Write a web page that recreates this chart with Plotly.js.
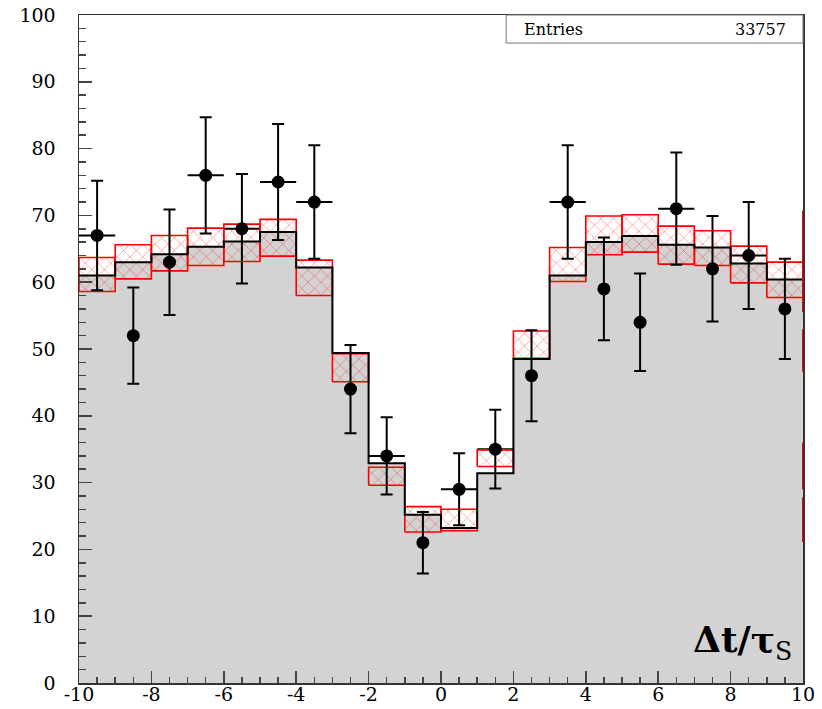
<!DOCTYPE html>
<html>
<head>
<meta charset="utf-8">
<script src="https://cdn.plot.ly/plotly-3.0.1.min.js"></script>
<style>html,body{margin:0;padding:0;background:#fff;}#chart{width:822px;height:709px;}</style>
</head>
<body>
<div id="chart"></div>
<script>
// ---- data ----
const binCenters = [-9.5,-8.5,-7.5,-6.5,-5.5,-4.5,-3.5,-2.5,-1.5,-0.5,0.5,1.5,2.5,3.5,4.5,5.5,6.5,7.5,8.5,9.5];
const binHalfWidth = 0.5;
const histVals = [61.0,63.0,64.2,65.3,66.1,67.5,62.2,49.4,32.9,25.2,23.2,31.4,48.5,61.0,66.0,66.9,65.6,65.2,62.8,60.4];
const bandHi   = [63.7,65.6,67.0,68.1,68.7,69.4,63.3,49.3,32.3,26.4,26.0,34.9,52.7,65.2,69.9,70.1,68.4,67.7,65.4,63.0];
const bandLo   = [58.6,60.5,61.7,62.5,63.1,63.9,58.0,45.1,29.6,22.6,22.8,32.4,48.6,60.1,64.1,64.5,62.7,62.5,59.9,57.7];
const dataVals = [67,52,63,76,68,75,72,44,34,21,29,35,46,72,59,54,71,62,64,56];
const dataErr  = [8.2,7.2,7.9,8.7,8.2,8.7,8.5,6.6,5.8,4.6,5.4,5.9,6.8,8.5,7.7,7.3,8.4,7.9,8.0,7.5];
const edgeX = 10;
const edgeRedY = [70.7,55.5,null,53.0,46.6,null,36.0,29.0,null,27.8,21.1];
const entriesLabel = "Entries";
const entriesValue = "33757";
const xTickVals = [-10,-8,-6,-4,-2,0,2,4,6,8,10];
const yTickVals = [0,10,20,30,40,50,60,70,80,90,100];

// ---- derived geometry ----
const stepX = [], stepY = [];
binCenters.forEach((c, i) => { stepX.push(c - binHalfWidth); stepY.push(histVals[i]); });
stepX.push(binCenters[binCenters.length-1] + binHalfWidth);
stepY.push(histVals[histVals.length-1]);

const boxX = [], boxY = [];
binCenters.forEach((c, i) => {
  const a = c - binHalfWidth, b = c + binHalfWidth;
  boxX.push(a, b, b, a, a, null);
  boxY.push(bandLo[i], bandLo[i], bandHi[i], bandHi[i], bandLo[i], null);
});

const serif = "DejaVu Serif";

const traces = [
  { // horizontal error bars (drawn first so the grey fill hides parts inside it)
    type: 'scatter', mode: 'markers', x: binCenters, y: dataVals,
    marker: {size: 1, color: 'rgba(0,0,0,0)'},
    error_x: {type: 'constant', value: binHalfWidth, width: 0, thickness: 2, color: '#000'},
    hoverinfo: 'skip', showlegend: false
  },
  { // grey filled histogram
    type: 'scatter', mode: 'lines', x: stepX, y: stepY,
    line: {shape: 'hv', width: 0, color: 'rgba(0,0,0,0)'},
    fill: 'tozeroy', fillcolor: '#d3d3d3', showlegend: false, hoverinfo: 'skip'
  },
  { // red hatched uncertainty boxes
    type: 'scatter', mode: 'lines', x: boxX, y: boxY,
    fill: 'toself', fillcolor: 'rgba(0,0,0,0)',
    fillpattern: {shape: 'x', fgcolor: 'rgba(255,0,0,0.7)', bgcolor: 'rgba(0,0,0,0)', size: 9, solidity: 0.1},
    line: {color: '#ff0000', width: 1.6}, connectgaps: false,
    showlegend: false, hoverinfo: 'skip'
  },
  { // black histogram outline
    type: 'scatter', mode: 'lines', x: stepX, y: stepY,
    line: {shape: 'hv', width: 2, color: '#000'}, showlegend: false, hoverinfo: 'skip'
  },
  { // red dashed edge
    type: 'scatter', mode: 'lines', x: edgeRedY.map(v => v === null ? null : edgeX), y: edgeRedY,
    line: {color: '#ff0000', width: 2}, connectgaps: false, cliponaxis: false,
    showlegend: false, hoverinfo: 'skip'
  },
  { // data points with vertical error bars
    type: 'scatter', mode: 'markers', x: binCenters, y: dataVals,
    marker: {size: 13, color: '#000', symbol: 'circle'},
    error_y: {type: 'data', array: dataErr, visible: true, width: 6, thickness: 2, color: '#000'},
    showlegend: false
  }
];

const layout = {
  width: 822, height: 709,
  margin: {l: 79, r: 19, t: 15, b: 26, pad: 0},
  paper_bgcolor: '#fff', plot_bgcolor: '#fff',
  showlegend: false,
  font: {family: serif, color: '#000', size: 19},
  xaxis: {
    range: [-10, 10], tickmode: 'array', tickvals: xTickVals, ticktext: xTickVals.map(String),
    ticks: 'inside', ticklen: 12, tickwidth: 1.5, tickcolor: '#444',
    minor: {dtick: 0.5, tick0: -10, ticks: 'inside', ticklen: 6, tickwidth: 1.5, tickcolor: '#444', showgrid: false},
    showline: true, linecolor: '#333', linewidth: 1.5, mirror: true,
    showgrid: false, zeroline: false, ticklabelstandoff: -6,
    tickfont: {family: serif, size: 19, color: '#000'}
  },
  yaxis: {
    range: [0, 100], tickmode: 'array', tickvals: yTickVals, ticktext: yTickVals.map(String),
    ticks: 'inside', ticklen: 13, tickwidth: 1.5, tickcolor: '#444',
    minor: {dtick: 2, tick0: 0, ticks: 'inside', ticklen: 7, tickwidth: 1.5, tickcolor: '#444', showgrid: false},
    showline: true, linecolor: '#333', linewidth: 1.5, mirror: true,
    showgrid: false, zeroline: false, ticklabelstandoff: 18,
    tickfont: {family: serif, size: 19, color: '#000'}
  },
  shapes: [
    {type: 'rect', xref: 'paper', yref: 'paper', x0: 0.59, x1: 1.0, y0: 0.958, y1: 1.0,
     line: {color: '#777', width: 1}, fillcolor: '#fff', layer: 'above'}
  ],
  annotations: [
    {xref: 'paper', yref: 'paper', x: 0.612, y: 0.979, xanchor: 'left', yanchor: 'middle',
     text: entriesLabel, showarrow: false, font: {family: serif, size: 16, color: '#000'}},
    {xref: 'paper', yref: 'paper', x: 0.979, y: 0.979, xanchor: 'right', yanchor: 'middle',
     text: entriesValue, showarrow: false, font: {family: serif, size: 16, color: '#000'}},
    {xref: 'paper', yref: 'paper', x: 0.987, y: 0.062, xanchor: 'right', yanchor: 'middle',
     text: '<b>Δt/τ</b><sub>S</sub>', showarrow: false, font: {family: serif, size: 36, color: '#000'}}
  ]
};

Plotly.newPlot('chart', traces, layout, {displayModeBar: false, staticPlot: true});
</script>
</body>
</html>
